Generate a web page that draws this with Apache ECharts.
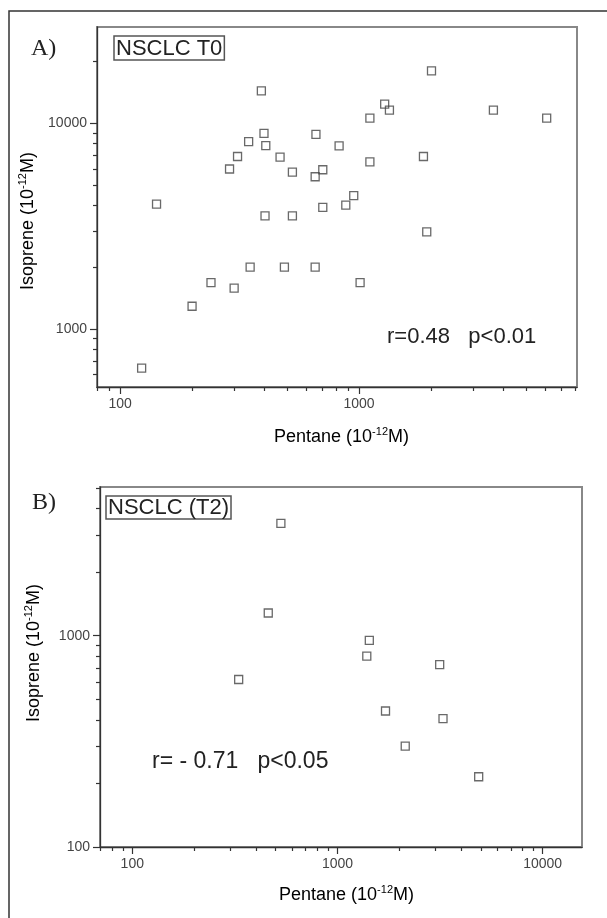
<!DOCTYPE html>
<html><head><meta charset="utf-8">
<script src="https://cdn.jsdelivr.net/npm/echarts@6/dist/echarts.min.js"></script>
<style>html,body{margin:0;padding:0;background:#fff}#c{width:607px;height:918px}</style>
</head><body><div id="c"></div>
<script>
// ---- Panel A: NSCLC T0 ----
const pentaneA = [390, 400, 407, 345, 310, 287, 467, 526, 142, 2010, 1280, 1340, 1110, 3650, 6100, 660, 825, 1110, 1860, 655, 705, 950, 880, 705, 404, 526, 1920, 350, 487, 655, 240, 1010, 300, 200, 123];
const isopreneA = [14400, 8950, 7790, 8150, 6900, 6000, 6850, 5800, 4050, 18000, 12400, 11600, 10600, 11600, 10600, 8850, 7770, 6500, 6900, 5500, 5950, 4450, 4000, 3900, 3550, 3550, 2970, 2000, 2000, 2000, 1680, 1680, 1580, 1290, 645];
// ---- Panel B: NSCLC (T2) ----
const pentaneB = [530, 460, 330, 1430, 1390, 3150, 1715, 3270, 2140, 4880];
const isopreneB = [3400, 1280, 620, 950, 800, 730, 440, 405, 300, 215];

// tick values
const xMajorA = [100, 1000];
const xMinorA = [80, 90, 200, 300, 400, 500, 600, 700, 800, 900, 2000, 3000, 4000, 5000, 6000, 7000, 8000];
const yMajorA = [1000, 10000];
const yMinorA = [600, 700, 800, 900, 2000, 3000, 4000, 5000, 6000, 7000, 8000, 9000, 20000];
const xMajorB = [100, 1000, 10000];
const xMinorB = [70, 80, 90, 200, 300, 400, 500, 600, 700, 800, 900, 2000, 3000, 4000, 5000, 6000, 7000, 8000, 9000];
const yMajorB = [100, 1000];
const yMinorB = [200, 300, 400, 500, 600, 700, 800, 900, 2000, 3000, 4000, 5000];

const FONT = '"Liberation Sans", Arial, sans-serif';
const AXC = '#333';

function axisPair(kind, gridIndex, min, max, major, minor) {
  const pos = kind === 'x' ? 'bottom' : 'left';
  const base = {type: 'log', logBase: 10, gridIndex, min, max, position: pos,
    splitLine: {show: false}, minorTick: {show: false}, minorSplitLine: {show: false}};
  const maj = Object.assign({}, base, {
    axisLine: {show: true, lineStyle: {color: AXC, width: 1.3}},
    axisTick: {show: true, customValues: major, length: 7, lineStyle: {color: AXC, width: 1.2}},
    axisLabel: {show: true, customValues: major, margin: 10, fontSize: 14, color: '#444', fontFamily: FONT,
      formatter: (v) => String(Math.round(v))}
  });
  const mnr = Object.assign({}, base, {
    axisLine: {show: false},
    axisTick: {show: true, customValues: minor, length: 4, lineStyle: {color: AXC, width: 1.2}},
    axisLabel: {show: false}
  });
  return [maj, mnr];
}

function toPairs(xs, ys) { return xs.map((v, i) => [v, ys[i]]); }

const scatterStyle = {
  type: 'scatter', symbol: 'rect', symbolSize: 8, silent: true,
  itemStyle: {color: 'rgba(0,0,0,0)', borderColor: '#444', borderWidth: 1.3},
  emphasis: {disabled: true}
};

const richTitle = {
  a: {fontSize: 18, fontFamily: FONT, color: '#333', verticalAlign: 'bottom', lineHeight: 20},
  s: {fontSize: 11, fontFamily: FONT, color: '#333', verticalAlign: 'top', lineHeight: 20}
};

function label(x, y, text, size, family, extra) {
  return Object.assign({type: 'text', x, y, silent: true,
    style: Object.assign({text, fontSize: size, fontFamily: family || FONT, fill: '#222', verticalAlign: 'middle'}, extra || {})});
}

const option = {
  animation: false,
  grid: [
    {left: 97, top: 27, width: 480, height: 360, show: true, borderColor: '#888', borderWidth: 2, backgroundColor: 'transparent'},
    {left: 100, top: 487, width: 482, height: 360, show: true, borderColor: '#888', borderWidth: 2, backgroundColor: 'transparent'}
  ],
  xAxis: [
    ...axisPair('x', 0, 80, 8170, xMajorA, xMinorA),
    ...axisPair('x', 1, 69.6, 15560, xMajorB, xMinorB)
  ],
  yAxis: [
    ...axisPair('y', 0, 522, 29440, yMajorA, yMinorA),
    ...axisPair('y', 1, 100, 5050, yMajorB, yMinorB)
  ],
  series: [
    Object.assign({}, scatterStyle, {xAxisIndex: 0, yAxisIndex: 0, data: toPairs(pentaneA, isopreneA)}),
    Object.assign({}, scatterStyle, {xAxisIndex: 2, yAxisIndex: 2, data: toPairs(pentaneB, isopreneB)})
  ],
  graphic: [
    {type: 'polyline', silent: true, shape: {points: [[9, 930], [9, 11], [620, 11]]}, style: {stroke: '#333', lineWidth: 1.5, fill: null}},
    label(31, 49, 'A)', 24, '"Liberation Serif", serif'),
    label(114, 36, 'NSCLC T0', 22, FONT, {verticalAlign: 'top', padding: [2, 2, 0, 2], borderColor: '#555', borderWidth: 1.5}),
    label(387, 337, 'r=0.48   p<0.01', 22),
    label(32, 503, 'B)', 24, '"Liberation Serif", serif'),
    label(106, 496, 'NSCLC (T2)', 22, FONT, {verticalAlign: 'top', padding: [1, 2, 0, 2], borderColor: '#555', borderWidth: 1.5}),
    label(152, 762, 'r= - 0.71   p<0.05', 23),
    {type: 'text', x: 27.5, y: 221, rotation: Math.PI / 2, silent: true,
      style: {text: '{a|Isoprene (10}{s|-12}{a|M)}', rich: richTitle, align: 'center', verticalAlign: 'middle'}},
    {type: 'text', x: 341.5, y: 436, silent: true,
      style: {text: '{a|Pentane (10}{s|-12}{a|M)}', rich: richTitle, align: 'center', verticalAlign: 'middle'}},
    {type: 'text', x: 33, y: 653, rotation: Math.PI / 2, silent: true,
      style: {text: '{a|Isoprene (10}{s|-12}{a|M)}', rich: richTitle, align: 'center', verticalAlign: 'middle'}},
    {type: 'text', x: 346.5, y: 894, silent: true,
      style: {text: '{a|Pentane (10}{s|-12}{a|M)}', rich: richTitle, align: 'center', verticalAlign: 'middle'}}
  ]
};

const chart = echarts.init(document.getElementById('c'), null, {renderer: 'canvas'});
chart.setOption(option);
</script>
</body></html>
